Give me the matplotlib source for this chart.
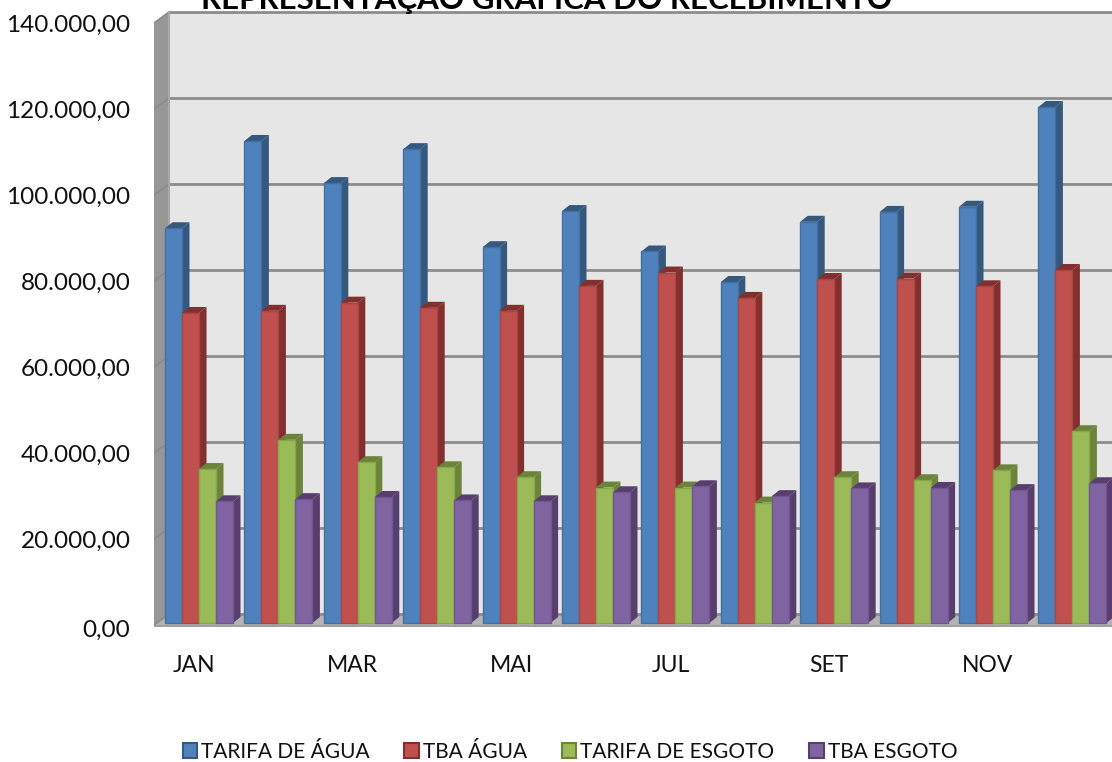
import matplotlib
matplotlib.use("Agg")
import matplotlib.pyplot as plt
import numpy as np
from matplotlib.patches import Patch
from matplotlib.transforms import ScaledTranslation

plt.rcParams['font.family'] = ['Lato', 'DejaVu Sans']

months = ["JAN", "FEV", "MAR", "ABR", "MAI", "JUN", "JUL", "AGO", "SET", "OUT", "NOV", "DEZ"]
tarifa_agua = [91800, 112100, 102300, 110200, 87400, 95800, 86400, 79300, 93300, 95600, 96800, 120000]
tba_agua = [72100, 72600, 74500, 73300, 72600, 78400, 81500, 75600, 80000, 80100, 78300, 82100]
tarifa_esgoto = [35800, 42600, 37400, 36200, 33900, 31500, 31500, 28000, 33900, 33200, 35500, 44600]
tba_esgoto = [28300, 28800, 29300, 28500, 28300, 30400, 31800, 29500, 31300, 31400, 30900, 32500]

names = ["TARIFA DE ÁGUA", "TBA ÁGUA", "TARIFA DE ESGOTO", "TBA ESGOTO"]
series = [tarifa_agua, tba_agua, tarifa_esgoto, tba_esgoto]
front = ["#4f81bd", "#c0504d", "#9bbb59", "#8064a2"]
edge = ["#44709f", "#a84643", "#88a64e", "#6f578f"]
dark = ["#35587f", "#822f2e", "#6b8439", "#573e6d"]

W, H = 1112, 762
GROUP = 79.4      # px per month
X0 = 165          # px of first bar
Y0 = 623          # px of value 0
PX_Y = 20000 / 86  # value per px


def dx(px):
    return px / GROUP


def dy(px):
    return px * PX_Y


fig = plt.figure(figsize=(W / 100, H / 100), dpi=100)
left, right = 154, W
top, bottom = 0, 627
ax = fig.add_axes([left / W, 1 - bottom / H, (right - left) / W, (bottom - top) / H])
ax.set_xlim((left - X0) / GROUP, (right - X0) / GROUP)
ax.set_ylim(dy(Y0 - bottom), dy(Y0 - top))
for s in ax.spines.values():
    s.set_visible(False)

xl = ax.get_xlim()
x_wall = xl[0]
x_back = x_wall + dx(15)
back = dy(9)
side = dy(-2)
vmax = 140000
grid_vals = np.arange(0, vmax + 1, 20000)

# walls and floor
ax.fill([x_back, xl[1], xl[1], x_back], [back, back, vmax + back, vmax + back], color="#e6e6e6", lw=0, zorder=1)
ax.fill([x_wall, x_back, x_back, x_wall], [side, back, vmax + back, vmax + side], color="#979797", lw=0, zorder=1)
ax.fill([x_wall, x_back, xl[1], xl[1]], [side, back, back, side], color="#b4b4b4", lw=0, zorder=1)
ax.fill([x_wall, xl[1], xl[1], x_wall], [side, side, dy(-4), dy(-4)], color="#a0a0a0", lw=0, zorder=1, clip_on=False)
for v in grid_vals:
    ax.plot([x_back, xl[1]], [v + back, v + back], color="#8c8c8c", lw=2, zorder=2, solid_capstyle="butt")
    ax.plot([x_wall, x_back], [v + side, v + back], color="#8a8a8a", lw=1.2, zorder=2)
ax.plot([x_back, x_back], [back, vmax + back], color="#a8a8a8", lw=1.5, zorder=2)

# bars with a fake 3d depth
x = np.arange(len(months))
bw = 17 / GROUP
ddx, ddy = dx(7.5), dy(6)
for k, vals in enumerate(series):
    vals = np.array(vals)
    xs = x + (k + 0.5) * bw
    for xi, v in zip(xs, vals):
        r = xi + bw / 2
        l = xi - bw / 2
        ax.fill([r, r + ddx, r + ddx, r], [0, ddy, v + ddy, v], color=dark[k], lw=0, zorder=3 + k)
        ax.fill([l, l + ddx, r + ddx, r], [v, v + ddy, v + ddy, v], color=dark[k], lw=0, zorder=3 + k)
    ax.bar(xs, vals, bw, color=front[k], edgecolor=edge[k], linewidth=1, zorder=3.5 + k)

# axis labels
ax.set_yticks(grid_vals)
ax.set_yticklabels([f"{v:,.2f}".replace(",", "X").replace(".", ",").replace("X", ".") for v in grid_vals])
ax.set_xticks(x[::2] + 29 / GROUP)
ax.set_xticklabels(months[::2])
ax.tick_params(axis="y", length=0, labelsize=17.5, labelcolor="#111111", pad=17)
ax.tick_params(axis="x", length=0, labelsize=16.5, labelcolor="#111111", pad=20)
shift = ScaledTranslation(0, -2 / 100, fig.dpi_scale_trans)
for t in ax.get_yticklabels():
    t.set_transform(t.get_transform() + shift)
# the zero label sits a little lower than the rest
zero = ax.get_yticklabels()[0]
zero.set_transform(zero.get_transform() + ScaledTranslation(0, -3 / 100, fig.dpi_scale_trans))

fig.text(547 / W, 1 - 9 / H, "REPRESENTAÇÃO GRÁFICA DO RECEBIMENTO", ha="center", va="baseline",
         fontsize=22.5, fontweight="bold", color="black")

handles = [Patch(facecolor=front[k], edgecolor=dark[k], linewidth=1.5) for k in range(4)]
fig.legend(handles, names, ncol=4, frameon=False, fontsize=15, loc="center",
           bbox_to_anchor=(570 / W, 1 - 752 / H), handlelength=0.7, handleheight=0.7,
           handletextpad=0.2, columnspacing=1.65, labelcolor="#111111")

fig.savefig("out.png", dpi=100)
